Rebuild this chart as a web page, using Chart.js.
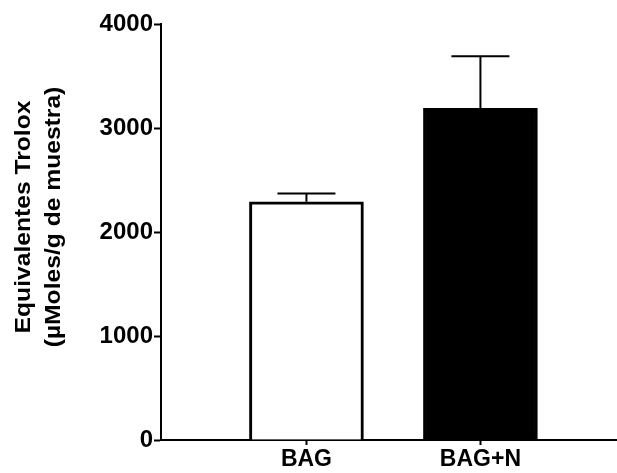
<!DOCTYPE html>
<html>
<head>
<meta charset="utf-8">
<script src="https://cdn.jsdelivr.net/npm/chart.js@4.4.0/dist/chart.umd.min.js"></script>
<style>
html,body{margin:0;padding:0;background:#fff;}
#wrap{width:617px;height:473px;position:relative;}
</style>
</head>
<body>
<div id="wrap"><canvas id="c" width="617" height="473"></canvas></div>
<script>
const categories = ["BAG", "BAG+N"];
const means = [2290, 3190];
const errUpper = [2370, 3690];
const yTicks = [0, 1000, 2000, 3000, 4000];
const fillColors = ["#ffffff", "#000000"];
const titleLines = ["Equivalentes Trolox", "(\u00b5Moles/g de muestra)"];

const FONT = "'Liberation Sans', Arial, sans-serif";

const errorBars = {
  id: 'errorBars',
  afterDatasetsDraw(chart) {
    const ctx = chart.ctx;
    const xs = chart.scales.x, ys = chart.scales.y;
    ctx.save();
    ctx.strokeStyle = '#000';
    ctx.lineWidth = 2;
    means.forEach((m, i) => {
      const x = xs.getPixelForValue(i);
      const yTop = ys.getPixelForValue(errUpper[i]);
      const yBar = ys.getPixelForValue(m);
      ctx.beginPath();
      ctx.moveTo(x, yBar);
      ctx.lineTo(x, yTop);
      ctx.moveTo(x - 29, yTop);
      ctx.lineTo(x + 29, yTop);
      ctx.stroke();
    });
    ctx.restore();
  }
};

const yTitle = {
  id: 'yTitle',
  afterDraw(chart) {
    const ctx = chart.ctx;
    ctx.save();
    ctx.fillStyle = '#000';
    ctx.font = "bold 22px " + FONT;
    ctx.textAlign = 'center';
    ctx.textBaseline = 'alphabetic';
    const cy = 217;
    const baselines = [30, 60];
    titleLines.forEach((t, i) => {
      ctx.save();
      ctx.translate(baselines[i], cy);
      ctx.rotate(-Math.PI / 2);
      ctx.scale(1.12, 1);
      ctx.fillText(t, 0, 0);
      ctx.restore();
    });
    ctx.restore();
  }
};

new Chart(document.getElementById('c'), {
  type: 'bar',
  data: {
    datasets: [{
      data: means.map((m, i) => ({x: i, y: m})),
      backgroundColor: fillColors,
      borderColor: '#000',
      borderWidth: 3,
      borderSkipped: 'start',
      barThickness: 114
    }]
  },
  options: {
    responsive: false,
    animation: false,
    devicePixelRatio: 1,
    layout: { padding: { top: 24, left: 0, right: 0, bottom: 0 } },
    plugins: { legend: { display: false }, tooltip: { enabled: false }, title: { display: false } },
    scales: {
      x: {
        type: 'linear',
        offset: false,
        min: -0.836,
        max: 1.785,
        afterBuildTicks(axis) { axis.ticks = categories.map((c, i) => ({ value: i })); },
        afterFit(scale) { scale.height = 33; },
        ticks: {
          callback: (v) => categories[v],
          color: '#000',
          font: { family: FONT, size: 23, weight: 'bold' },
          padding: 1,
          maxRotation: 0,
          autoSkip: false
        },
        grid: { offset: false, drawOnChartArea: false, drawTicks: true, tickLength: 5, tickWidth: 2, tickColor: '#000' },
        border: { display: true, color: '#000', width: 2 }
      },
      y: {
        min: yTicks[0],
        max: yTicks[yTicks.length - 1],
        afterBuildTicks(axis) { axis.ticks = yTicks.map(v => ({ value: v })); },
        afterFit(scale) { scale.width = 161; },
        ticks: {
          callback: (v) => String(v),
          color: '#000',
          font: { family: FONT, size: 24, weight: 'bold' },
          padding: 1
        },
        grid: { drawOnChartArea: false, drawTicks: true, tickLength: 7, tickWidth: 2, tickColor: '#000' },
        border: { display: true, color: '#000', width: 2 }
      }
    }
  },
  plugins: [errorBars, yTitle]
});
</script>
</body>
</html>
